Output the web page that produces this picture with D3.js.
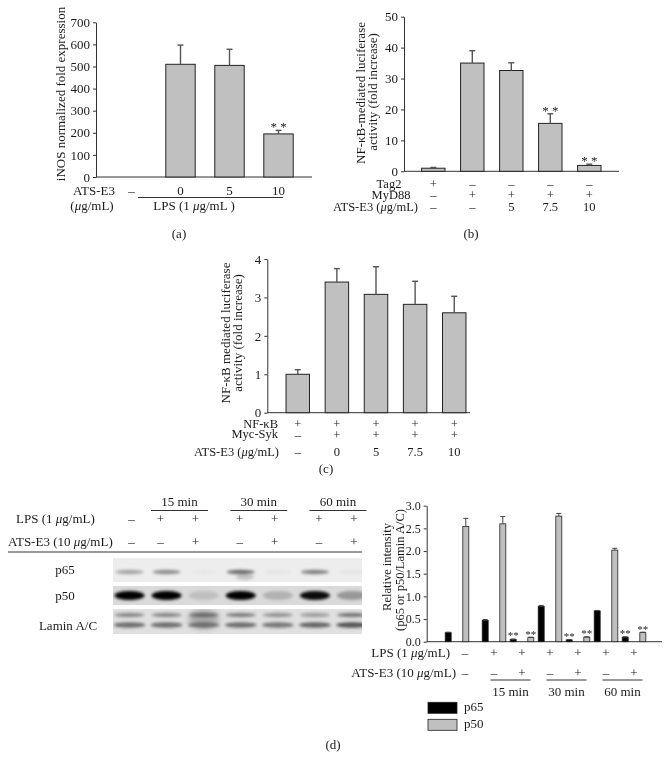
<!DOCTYPE html>
<html><head><meta charset="utf-8">
<script src="https://cdn.jsdelivr.net/npm/d3@7"></script>
<style>
body{margin:0;background:#fff}
svg{will-change:transform}
text{font-family:"Liberation Serif","Times New Roman",serif;fill:#1a1a1a}
</style>
</head><body>
<svg id="c" width="670" height="762"></svg>
<script>
// ---------- Panel (a) data ----------
const aCats = ["–", "0", "5", "10"];
const aValues = [0, 510, 505, 195];
const aErrTop = [null, 597, 578, 211];
const aSig = ["", "", "", "* *"];
const aTicks = [0, 100, 200, 300, 400, 500, 600, 700];

// ---------- Panel (b) data ----------
const bTag2 = ["+", "–", "–", "–", "–"];
const bMyD88 = ["–", "+", "+", "+", "+"];
const bATS = ["–", "–", "5", "7.5", "10"];
const bValues = [1.0, 35.0, 32.6, 15.5, 1.9];
const bErrTop = [1.25, 39.0, 35.1, 18.6, 2.3];
const bSig = ["", "", "", "* *", "* *"];
const bTicks = [0, 10, 20, 30, 40, 50];

// ---------- Panel (c) data ----------
const cNFkB = ["+", "+", "+", "+", "+"];
const cMycSyk = ["–", "+", "+", "+", "+"];
const cATS = ["–", "0", "5", "7.5", "10"];
const cValues = [1.0, 3.4, 3.08, 2.82, 2.6];
const cErrTop = [1.12, 3.75, 3.8, 3.42, 3.03];
const cTicks = [0, 1, 2, 3, 4];

// ---------- Panel (d) data ----------
const dLPS = ["–", "+", "+", "+", "+", "+", "+"];
const dATS = ["–", "–", "+", "–", "+", "–", "+"];
const dTimes = ["15 min", "30 min", "60 min"];
const dP65 = [0.2, 0.47, 0.05, 0.78, 0.04, 0.68, 0.1];
const dP65Err = [0.21, 0.49, 0.06, 0.8, 0.05, 0.69, 0.11];
const dP50 = [2.54, 2.6, 0.09, 2.77, 0.1, 2.02, 0.2];
const dP50Err = [2.72, 2.76, 0.1, 2.83, 0.11, 2.06, 0.21];
const dP65Sig = ["", "", "**", "", "**", "", "**"];
const dP50Sig = ["", "", "**", "", "**", "", "**"];
const dTicks = [0, 0.5, 1.0, 1.5, 2.0, 2.5, 3.0];
const dSeries = ["p65", "p50"];

// ---------- Western blot band intensities ----------
const blotP65 = [0.3, 0.4, 0.02, 0.55, 0.03, 0.45, 0.03];
const blotP50 = [1, 1, 0.12, 1, 0.18, 0.95, 0.3];
const laminUpper = [0.45, 0.45, 0.5, 0.5, 0.4, 0.35, 0.55];
const laminLower = [0.6, 0.6, 0.5, 0.6, 0.55, 0.65, 0.75];

const svg = d3.select("#c");
svg.append("rect").attr("width", 670).attr("height", 762).attr("fill", "#fff");

const FS = 13;
const BAR_FILL = "#c0c0c0";
const INK = "#222";

function txt(g, x, y, s, anchor = "middle", size = FS) {
  const t = g.append("text").attr("x", x).attr("y", y).attr("text-anchor", anchor).attr("font-size", size);
  const parts = s.split("μ");
  parts.forEach((p, i) => {
    if (i > 0) t.append("tspan").attr("font-style", "italic").text("μ");
    if (p) t.append("tspan").text(p);
  });
  return t;
}
function rotLabel(g, cx, cy, s, size = FS) {
  g.append("text").attr("transform", `translate(${cx},${cy}) rotate(-90)`)
    .attr("text-anchor", "middle").attr("dy", "0.35em").attr("font-size", size).text(s);
}
function yAxis(g, y, x, ticks, fmt, size = FS) {
  const ax = g.append("g").attr("transform", `translate(${x},0)`)
    .call(d3.axisLeft(y).tickValues(ticks).tickSize(3).tickSizeOuter(0).tickPadding(3).tickFormat(fmt));
  ax.attr("font-family", null).attr("font-size", null);
  ax.selectAll("text").attr("font-size", size).attr("fill", INK);
  ax.selectAll("line,path").attr("stroke", "#333");
  return ax;
}
function xLine(g, x0, x1, y) {
  g.append("line").attr("x1", x0).attr("x2", x1).attr("y1", y).attr("y2", y).attr("stroke", "#333");
}
function bars(g, x, y, values, errTop, sig) {
  values.forEach((v, i) => {
    if (v > 0) {
      g.append("rect").attr("x", x(i)).attr("width", x.bandwidth())
        .attr("y", y(v)).attr("height", y(0) - y(v))
        .attr("fill", BAR_FILL).attr("stroke", INK).attr("stroke-width", 1);
    }
    if (errTop[i] != null) {
      const cx = x(i) + x.bandwidth() / 2;
      g.append("line").attr("x1", cx).attr("x2", cx).attr("y1", y(v)).attr("y2", y(errTop[i]))
        .attr("stroke", "#555").attr("stroke-width", 1.4);
      g.append("line").attr("x1", cx - 3).attr("x2", cx + 3).attr("y1", y(errTop[i])).attr("y2", y(errTop[i]))
        .attr("stroke", "#555").attr("stroke-width", 1.4);
    }
    if (sig && sig[i]) {
      txt(g, x(i) + x.bandwidth() / 2, y(errTop[i]) + 1, sig[i], "middle", 13);
    }
  });
}

// ================= Panel (a) =================
{
  const g = svg.append("g");
  const y = d3.scaleLinear().domain([0, 700]).range([177, 22.3]);
  const x = d3.scaleBand().domain(d3.range(aCats.length)).range([107, 303]).paddingInner(0.4).paddingOuter(0.2);
  yAxis(g, y, 96, aTicks, d3.format("d"));
  xLine(g, 96, 312, y(0));
  bars(g, x, y, aValues, aErrTop, aSig);
  rotLabel(g, 60, 94, "iNOS normalized fold expression");
  txt(g, 94, 194.5, "ATS-E3");
  txt(g, 92, 209.5, "(μg/mL)");
  aCats.forEach((c, i) => txt(g, x(i) + x.bandwidth() / 2, 194.5, c));
  xLine(g, 138, 283, 197.5);
  txt(g, 194, 210, "LPS (1 μg/mL )");
  txt(g, 179, 237.5, "(a)");
}

// ================= Panel (b) =================
{
  const g = svg.append("g");
  const RS = 12.5;
  const y = d3.scaleLinear().domain([0, 50]).range([171.3, 16.7]);
  const x = d3.scaleBand().domain(d3.range(bValues.length)).range([413.8, 608.8]).paddingInner(0.4).paddingOuter(0.2);
  yAxis(g, y, 404, bTicks, d3.format("d"));
  xLine(g, 404, 619, y(0));
  bars(g, x, y, bValues, bErrTop, bSig);
  rotLabel(g, 360, 93, "NF-κB-mediated luciferase");
  rotLabel(g, 372, 92, "activity (fold increase)");
  txt(g, 389, 187.5, "Tag2", "middle", RS);
  txt(g, 391, 198.5, "MyD88", "middle", RS);
  txt(g, 418, 210.5, "ATS-E3 (μg/mL)", "end", RS);
  const cx = i => x(i) + x.bandwidth() / 2;
  bTag2.forEach((s, i) => txt(g, cx(i), 187.5, s, "middle", RS));
  bMyD88.forEach((s, i) => txt(g, cx(i), 198.5, s, "middle", RS));
  bATS.forEach((s, i) => txt(g, cx(i), 210.5, s, "middle", RS));
  txt(g, 471, 237.5, "(b)");
}

// ================= Panel (c) =================
{
  const g = svg.append("g");
  const RS = 12.5;
  const y = d3.scaleLinear().domain([0, 4]).range([412.7, 259]);
  const x = d3.scaleBand().domain(d3.range(cValues.length)).range([278.2, 473.8]).paddingInner(0.4).paddingOuter(0.2);
  yAxis(g, y, 267.3, cTicks, d3.format("d"));
  xLine(g, 267.3, 470, y(0));
  bars(g, x, y, cValues, cErrTop, null);
  rotLabel(g, 225, 333, "NF-κB mediated luciferase");
  rotLabel(g, 237, 333, "activity (fold increase)");
  txt(g, 278, 428, "NF-κB", "end", RS);
  txt(g, 278, 438, "Myc-Syk", "end", RS);
  txt(g, 279, 456, "ATS-E3 (μg/mL)", "end", RS);
  const cx = i => x(i) + x.bandwidth() / 2;
  cNFkB.forEach((s, i) => txt(g, cx(i), 428, s, "middle", RS));
  cMycSyk.forEach((s, i) => txt(g, cx(i), 438.5, s, "middle", RS));
  cATS.forEach((s, i) => txt(g, cx(i), 456, s, "middle", RS));
  txt(g, 326, 472.5, "(c)");
}

// ================= Panel (d) left: western blot =================
{
  const g = svg.append("g");
  const lane = d3.scalePoint().domain(d3.range(7)).range([129.5, 352]);
  // header columns: control + three time pairs
  const hTime = d3.scalePoint().domain(d3.range(dTimes.length)).range([178, 336.5]);
  const hx = i => i === 0 ? 131.5 : hTime(Math.floor((i - 1) / 2)) + ((i - 1) % 2 ? 17.5 : -17.5);

  const defs = svg.append("defs");
  defs.append("filter").attr("id", "blur").attr("x", "-50%").attr("y", "-100%").attr("width", "200%").attr("height", "300%")
    .append("feGaussianBlur").attr("stdDeviation", 1.8);
  defs.append("filter").attr("id", "blur2").attr("x", "-50%").attr("y", "-100%").attr("width", "200%").attr("height", "300%")
    .append("feGaussianBlur").attr("stdDeviation", 3);
  defs.append("clipPath").attr("id", "clipP65").append("rect").attr("x", 113).attr("y", 558).attr("width", 249).attr("height", 24);
  defs.append("clipPath").attr("id", "clipP50").append("rect").attr("x", 113).attr("y", 586).attr("width", 249).attr("height", 19);
  defs.append("clipPath").attr("id", "clipLam").append("rect").attr("x", 113).attr("y", 609).attr("width", 249).attr("height", 25);

  dLPS.forEach((s, i) => txt(g, hx(i), 523, s));
  dATS.forEach((s, i) => txt(g, hx(i), 546, s));
  dTimes.forEach((t, k) => {
    const mid = hTime(k) + 1.5;
    txt(g, mid, 506, t);
    xLine(g, mid - 28.5, mid + 28.5, 510.5);
  });
  txt(g, 16, 523, "LPS (1 μg/mL)", "start");
  txt(g, 8, 546, "ATS-E3 (10 μg/mL)", "start");
  xLine(g, 8, 362, 552);

  const p65g = g.append("g").attr("clip-path", "url(#clipP65)");
  p65g.append("rect").attr("x", 113).attr("y", 558).attr("width", 249).attr("height", 24).attr("fill", "#ededed");
  blotP65.forEach((v, i) => {
    p65g.append("ellipse").attr("cx", lane(i)).attr("cy", 572).attr("rx", 14).attr("ry", 2.2)
      .attr("fill", "#000").attr("opacity", v).attr("filter", "url(#blur)");
  });
  p65g.append("ellipse").attr("cx", lane(3) + 4).attr("cy", 577).attr("rx", 9).attr("ry", 3)
    .attr("fill", "#000").attr("opacity", 0.18).attr("filter", "url(#blur)");

  const p50g = g.append("g").attr("clip-path", "url(#clipP50)");
  p50g.append("rect").attr("x", 113).attr("y", 586).attr("width", 249).attr("height", 19).attr("fill", "#dadada");
  blotP50.forEach((v, i) => {
    p50g.append("ellipse").attr("cx", lane(i)).attr("cy", 595.5).attr("rx", 15).attr("ry", 4.5)
      .attr("fill", "#000").attr("opacity", v).attr("filter", "url(#blur)");
  });

  const lg = g.append("g").attr("clip-path", "url(#clipLam)");
  lg.append("rect").attr("x", 113).attr("y", 609).attr("width", 249).attr("height", 25).attr("fill", "#e0e0e0");
  laminUpper.forEach((v, i) => {
    lg.append("ellipse").attr("cx", lane(i)).attr("cy", 615).attr("rx", 15).attr("ry", 2.2)
      .attr("fill", "#222").attr("opacity", v).attr("filter", "url(#blur)");
  });
  laminLower.forEach((v, i) => {
    lg.append("ellipse").attr("cx", lane(i)).attr("cy", 625).attr("rx", 16).attr("ry", 2.8)
      .attr("fill", "#222").attr("opacity", v).attr("filter", "url(#blur)");
  });
  lg.append("ellipse").attr("cx", lane(2)).attr("cy", 619).attr("rx", 15).attr("ry", 10)
    .attr("fill", "#333").attr("opacity", 0.3).attr("filter", "url(#blur2)");

  txt(g, 65, 574, "p65");
  txt(g, 65, 600, "p50");
  txt(g, 68, 629.5, "Lamin A/C");
}

// ================= Panel (d) right: quantification =================
{
  const g = svg.append("g");
  const y = d3.scaleLinear().domain([0, 3]).range([641.7, 505.7]);
  // group centres: control, then three time pairs
  const tScale = d3.scalePoint().domain(d3.range(dTimes.length)).range([508, 620]);
  const gc = i => i === 0 ? 457 : tScale(Math.floor((i - 1) / 2)) + ((i - 1) % 2 ? 14 : -14);
  const sub = d3.scaleBand().domain(dSeries).range([-11.8, 11.8]).paddingInner(0.66).paddingOuter(0);
  yAxis(g, y, 426.7, dTicks, d3.format(".1f"), 12);
  xLine(g, 426.7, 662, y(0));
  const series = [
    { key: "p65", vals: dP65, err: dP65Err, sig: dP65Sig, fill: "#000" },
    { key: "p50", vals: dP50, err: dP50Err, sig: dP50Sig, fill: BAR_FILL }
  ];
  series.forEach(s => {
    s.vals.forEach((v, i) => {
      const bx = gc(i) + sub(s.key);
      const bw = sub.bandwidth();
      g.append("rect").attr("x", bx).attr("width", bw).attr("y", y(v)).attr("height", y(0) - y(v))
        .attr("fill", s.fill).attr("stroke", INK).attr("stroke-width", 0.8);
      const cx = bx + bw / 2;
      g.append("line").attr("x1", cx).attr("x2", cx).attr("y1", y(v)).attr("y2", y(s.err[i])).attr("stroke", "#444");
      g.append("line").attr("x1", cx - 2.5).attr("x2", cx + 2.5).attr("y1", y(s.err[i])).attr("y2", y(s.err[i])).attr("stroke", "#444");
      if (s.sig[i]) txt(g, cx, y(s.err[i]) + 0.5, s.sig[i], "middle", 11);
    });
  });
  rotLabel(g, 387, 567, "Relative intensity", 12.5);
  rotLabel(g, 400, 570, "(p65 or p50/Lamin A/C)", 12.5);
  txt(g, 450, 657, "LPS (1 μg/mL)", "end");
  txt(g, 456, 676.5, "ATS-E3 (10 μg/mL)", "end");
  const sx = i => i === 0 ? gc(i) + 8 : gc(i);
  dLPS.forEach((s, i) => txt(g, sx(i), 657, s));
  dATS.forEach((s, i) => txt(g, sx(i), 676.5, s));
  dTimes.forEach((t, k) => {
    const mid = tScale(k) + 2.5;
    xLine(g, mid - 20, mid + 20, 680);
    txt(g, mid, 696, t);
  });
  const lgY = [702.3, 719.3];
  series.forEach((s, k) => {
    g.append("rect").attr("x", 428).attr("y", lgY[k]).attr("width", 29).attr("height", 11)
      .attr("fill", s.fill).attr("stroke", INK).attr("stroke-width", 0.8);
    txt(g, 464, lgY[k] + 8.5, s.key, "start");
  });
  txt(g, 333, 749, "(d)");
}
</script>
</body></html>
